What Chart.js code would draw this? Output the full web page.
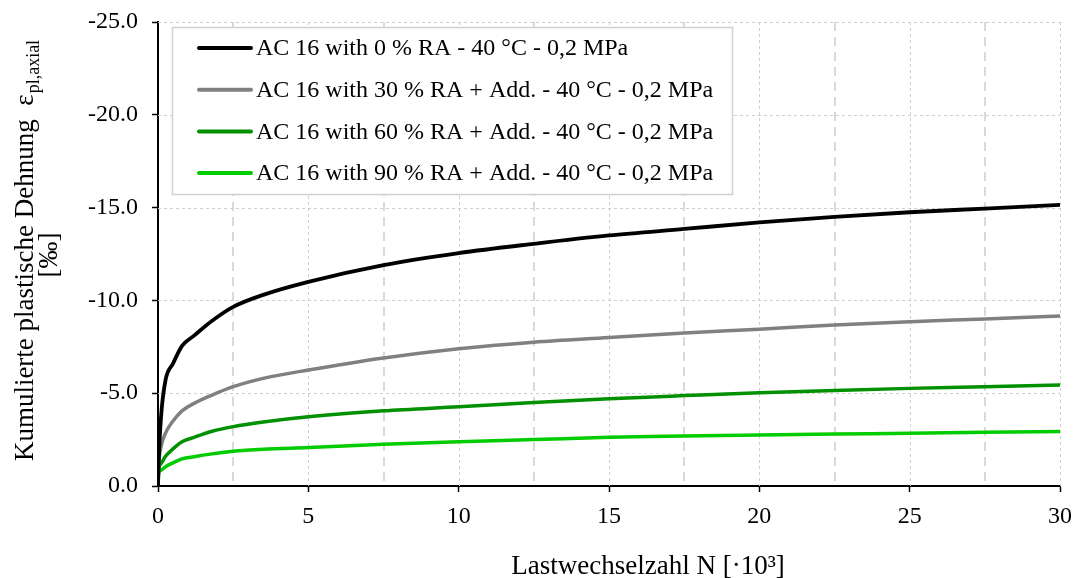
<!DOCTYPE html>
<html>
<head>
<meta charset="utf-8">
<script src="https://cdn.jsdelivr.net/npm/chart.js@4.4.1/dist/chart.umd.min.js"></script>
<style>
  html, body { margin:0; padding:0; background:#fff; }
  #wrap { width:1073px; height:578px; }
</style>
</head>
<body>
<div id="wrap"><canvas id="c"></canvas></div>
<script>
/* --- data (N in 10^3 cycles, strain in ‰) --- */
const loadCycles = [0, 0.02, 0.1, 0.25, 0.5, 0.8, 1.2, 1.8, 2.5, 3.5, 5, 7.5, 10, 12.5, 15, 17.5, 20, 22.5, 25, 27.5, 30];

const ra0  = [0, -1.2, -3.7, -5.7, -6.6, -7.55, -8.1, -8.9, -9.65, -10.3, -11.0, -11.9, -12.55, -13.05, -13.5, -13.85, -14.2, -14.5, -14.75, -14.95, -15.15];
const ra30 = [0, -1.0, -2.1, -2.85, -3.5, -4.05, -4.45, -4.9, -5.35, -5.8, -6.25, -6.9, -7.4, -7.75, -8.0, -8.25, -8.45, -8.67, -8.85, -9.0, -9.16];
const ra60 = [0, -0.85, -1.2, -1.6, -2.0, -2.38, -2.62, -2.95, -3.2, -3.45, -3.73, -4.05, -4.27, -4.5, -4.7, -4.87, -5.03, -5.15, -5.26, -5.35, -5.44];
const ra90 = [0, -0.7, -0.85, -1.04, -1.25, -1.46, -1.58, -1.73, -1.87, -1.98, -2.07, -2.25, -2.39, -2.5, -2.62, -2.69, -2.75, -2.8, -2.84, -2.89, -2.93];

const seriesLabels = [
  'AC 16 with 0 % RA - 40 °C - 0,2 MPa',
  'AC 16 with 30 % RA + Add. - 40 °C - 0,2 MPa',
  'AC 16 with 60 % RA + Add. - 40 °C - 0,2 MPa',
  'AC 16 with 90 % RA + Add. - 40 °C - 0,2 MPa'
];
const seriesColors = ['#000000', '#808080', '#009000', '#00cc00'];

const FONT = '"Liberation Serif", "Times New Roman", serif';

const pts = ys => loadCycles.map((x, i) => ({ x, y: ys[i] }));

/* --- gridlines: dotted major, dashed minor (vertical only) --- */
const gridPlugin = {
  id: 'gridLines',
  beforeDatasetsDraw(chart) {
    const { ctx, chartArea: a, scales: { x, y } } = chart;
    ctx.save();
    // minor vertical dashed at 2.5, 7.5, ...
    ctx.strokeStyle = '#d9d9d9'; ctx.lineWidth = 2; ctx.setLineDash([9, 6]);
    for (let v = 2.5; v < 30; v += 5) {
      const px = Math.round(x.getPixelForValue(v));
      ctx.beginPath(); ctx.moveTo(px, a.top); ctx.lineTo(px, a.bottom); ctx.stroke();
    }
    // major dotted
    ctx.strokeStyle = '#cfcfcf'; ctx.lineWidth = 1; ctx.setLineDash([3, 3]);
    for (let v = 5; v <= 30; v += 5) {
      const px = Math.round(x.getPixelForValue(v)) + 0.5;
      ctx.beginPath(); ctx.moveTo(px, a.top); ctx.lineTo(px, a.bottom); ctx.stroke();
    }
    for (let v = -5; v >= -25; v -= 5) {
      const py = Math.round(y.getPixelForValue(v)) + 0.5;
      ctx.beginPath(); ctx.moveTo(a.left, py); ctx.lineTo(a.right, py); ctx.stroke();
    }
    ctx.restore();
  }
};

/* --- legend box inside the plot --- */
const legendPlugin = {
  id: 'boxLegend',
  afterDraw(chart) {
    const ctx = chart.ctx;
    ctx.save();
    ctx.fillStyle = '#fff';
    ctx.fillRect(172, 27, 560, 167);
    ctx.strokeStyle = '#d0d0d0'; ctx.lineWidth = 1.5;
    ctx.strokeRect(172.5, 27.5, 560, 167);
    ctx.font = '24px ' + FONT;
    ctx.textBaseline = 'middle';
    chart.data.datasets.forEach((ds, i) => {
      const yy = 48 + i * 41.7;
      ctx.strokeStyle = ds.borderColor; ctx.lineWidth = 4; ctx.lineCap = 'round';
      ctx.beginPath(); ctx.moveTo(199, yy); ctx.lineTo(251, yy); ctx.stroke();
      ctx.fillStyle = '#000';
      ctx.fillText(ds.label, 256, yy + 1);
    });
    ctx.restore();
  }
};

/* --- axis titles (with subscript) --- */
const titlePlugin = {
  id: 'axisTitles',
  afterDraw(chart) {
    const ctx = chart.ctx;
    ctx.save();
    ctx.fillStyle = '#000';
    // x title
    ctx.font = '27px ' + FONT;
    ctx.textAlign = 'center'; ctx.textBaseline = 'alphabetic';
    ctx.fillText('Lastwechselzahl N [·10³]', 648, 574);
    // y title, rotated
    ctx.rotate(-Math.PI / 2);
    const main = 'Kumulierte plastische Dehnung  ε';
    const sub = 'pl,axial';
    ctx.font = '27px ' + FONT;
    const wMain = ctx.measureText(main).width;
    ctx.font = '18px ' + FONT;
    const wSub = ctx.measureText(sub).width;
    const total = wMain + wSub;
    const cy = 251;
    const start = -cy - total / 2;
    ctx.textAlign = 'left';
    ctx.font = '27px ' + FONT;
    ctx.fillText(main, start, 33);
    ctx.font = '18px ' + FONT;
    ctx.fillText(sub, start + wMain + 1, 39);
    ctx.font = '27px ' + FONT;
    ctx.textAlign = 'center';
    ctx.fillText('[‰]', -255, 57);
    ctx.restore();
  }
};

new Chart(document.getElementById('c'), {
  type: 'line',
  data: {
    datasets: [ra0, ra30, ra60, ra90].map((ys, i) => ({
      label: seriesLabels[i],
      data: pts(ys),
      borderColor: seriesColors[i],
      borderWidth: i === 0 ? 3.8 : 3.5,
      pointRadius: 0,
      cubicInterpolationMode: 'monotone',
      fill: false
    }))
  },
  options: {
    responsive: true,
    maintainAspectRatio: false,
    animation: false,
    layout: { padding: { top: 22, right: 13, left: 0, bottom: 0 } },
    plugins: { legend: { display: false }, title: { display: false }, tooltip: { enabled: false } },
    scales: {
      x: {
        type: 'linear', min: 0, max: 30,
        ticks: { stepSize: 5, color: '#000', font: { family: FONT, size: 24 }, padding: 10, maxRotation: 0 },
        grid: { drawOnChartArea: false, tickLength: 6, tickColor: '#000', tickWidth: 1.5 },
        border: { color: '#000', width: 2 },
        afterFit: s => { s.height = 92; s.paddingLeft = 0; s.paddingRight = 0; }
      },
      y: {
        type: 'linear', min: -25, max: 0, reverse: true,
        ticks: { stepSize: 5, color: '#000', font: { family: FONT, size: 24 }, padding: 14,
                 callback: v => (v === 0 ? 0 : v).toFixed(1) },
        grid: { drawOnChartArea: false, tickLength: 6, tickColor: '#000', tickWidth: 1.5 },
        border: { color: '#000', width: 2 },
        afterFit: s => { s.width = 158; s.paddingTop = 0; s.paddingBottom = 0; }
      }
    }
  },
  plugins: [gridPlugin, legendPlugin, titlePlugin]
});
</script>
</body>
</html>
